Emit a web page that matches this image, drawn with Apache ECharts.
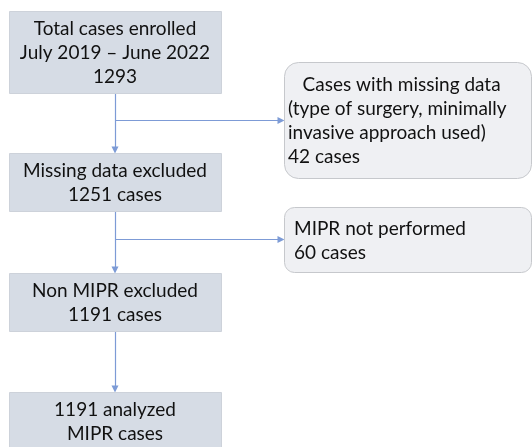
<!DOCTYPE html>
<html><head><meta charset="utf-8">
<script src="https://cdn.jsdelivr.net/npm/echarts@6/dist/echarts.min.js"></script>
<style>html,body{margin:0;padding:0;background:#fff}#c{width:532px;height:447px}</style>
</head><body><div id="c"></div>
<script>
// ---- data ----
const mainCounts = [1293, 1251, 1191, 1191];
const mainLabels = ['Total cases enrolled\nJuly 2019 – June 2022\n{n}', 'Missing data excluded\n{n} cases', 'Non MIPR excluded\n{n} cases', '{n} analyzed\nMIPR cases'];
const exclCounts = [42, 60];
const exclLabels = ['   Cases with missing data\n(type of surgery, minimally\ninvasive approach used)\n{n} cases', 'MIPR not performed\n{n} cases'];

// ---- layout (chart units) ----
const mainBoxLayout = [[9, 11, 221, 93], [9, 153, 221, 211], [9, 273, 221, 331], [9, 392, 221, 449]];
const exclBoxLayout = [[284, 62, 531, 178], [284, 207, 531, 272]];
const exclRadius = [14, 10];
const exclPad = [4, 10];
const spineX = 115;
const branchY = [120.5, 239.5];

const FONT = 'Lato';
const FS = 19;
const LH = 24;

const boxData = [];
mainCounts.forEach((n, i) => boxData.push({ value: [i, 0], text: mainLabels[i].replace('{n}', n) }));
exclCounts.forEach((n, i) => boxData.push({ value: [i, 1], text: exclLabels[i].replace('{n}', n) }));

const connectorData = [];
for (let i = 0; i < mainBoxLayout.length - 1; i++) {
  connectorData.push({ coords: [[spineX, mainBoxLayout[i][3]], [spineX, mainBoxLayout[i + 1][1] - 3]] });
}
branchY.forEach((y, i) => {
  connectorData.push({ coords: [[spineX, y], [exclBoxLayout[i][0] - 3, y]] });
});

function renderBox(params, api) {
  const idx = api.value(0), kind = api.value(1);
  const L = kind === 0 ? mainBoxLayout[idx] : exclBoxLayout[idx];
  const p0 = api.coord([L[0], L[1]]), p1 = api.coord([L[2], L[3]]);
  const x = p0[0], y = p0[1], w = p1[0] - p0[0], h = p1[1] - p0[1];
  const text = boxData[params.dataIndex].text;
  return {
    type: 'group',
    children: [
      {
        type: 'rect',
        shape: { x: x + 0.5, y: y + 0.5, width: w, height: h, r: kind === 0 ? 0 : exclRadius[idx] },
        style: kind === 0 ? { fill: '#d6dce5', stroke: '#cdd2da', lineWidth: 1 } : { fill: '#eff0f3', stroke: '#c6c8cc', lineWidth: 1 }
      },
      {
        type: 'text',
        style: {
          text: text,
          x: kind === 0 ? x + w / 2 : x + exclPad[idx],
          y: y + h / 2 + 1,
          align: kind === 0 ? 'center' : 'left',
          verticalAlign: 'middle',
          fontFamily: FONT,
          fontSize: FS,
          lineHeight: LH,
          fill: '#111111'
        }
      }
    ]
  };
}

const chart = echarts.init(document.getElementById('c'), null, { renderer: 'canvas' });
chart.setOption({
  animation: false,
  grid: { left: 0, right: 0, top: 0, bottom: 0 },
  xAxis: { type: 'value', min: 0, max: 532, show: false },
  yAxis: { type: 'value', min: 0, max: 447, inverse: true, show: false },
  series: [
    {
      type: 'lines',
      coordinateSystem: 'cartesian2d',
      data: connectorData,
      symbol: ['none', 'triangle'],
      symbolSize: 7,
      lineStyle: { color: '#7d9bd6', width: 1.2, opacity: 1 },
      itemStyle: { color: '#4472c4' },
      z: 1
    },
    {
      type: 'custom',
      data: boxData,
      renderItem: renderBox,
      z: 2
    }
  ]
});
</script>
</body></html>
